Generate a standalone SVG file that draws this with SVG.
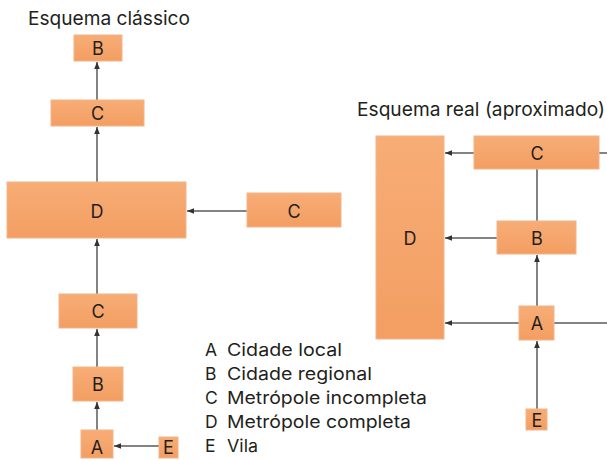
<svg xmlns="http://www.w3.org/2000/svg" width="607" height="460" viewBox="0 0 607 460">
<style>
.box{fill:url(#og);stroke:#f2b58a;stroke-width:1}
.lbl{font-family:Inter,"Liberation Sans",sans-serif;font-size:18px;fill:#231f20;text-anchor:middle;dominant-baseline:central}
.ttl{font-family:Inter,"Liberation Sans",sans-serif;font-size:19px;fill:#231f20}
.leg{font-family:Inter,"Liberation Sans",sans-serif;font-size:17.5px;fill:#231f20}
.ln{stroke:#5a5a5a;stroke-width:1.5;fill:none}
.ar{marker-end:url(#ah)}
</style>
<defs>
<linearGradient id="og" x1="0" y1="0" x2="0" y2="1">
<stop offset="0" stop-color="#f7ad76"/>
<stop offset="1" stop-color="#f39e62"/>
</linearGradient>
<marker id="ah" viewBox="0 0 10 10" refX="10" refY="5" markerWidth="8" markerHeight="7" markerUnits="userSpaceOnUse" orient="auto">
<path d="M0,1 L10,5 L0,9 z" fill="#333"/>
</marker>
</defs>
<rect width="607" height="460" fill="#fff"/>
<text class="ttl" x="28" y="25" textLength="162" lengthAdjust="spacingAndGlyphs">Esquema clássico</text>
<text class="ttl" x="357" y="116" textLength="248" lengthAdjust="spacingAndGlyphs">Esquema real (aproximado)</text>
<g id="connectors">
<line class="ln ar" x1="97" y1="100" x2="97" y2="62"/>
<line class="ln ar" x1="97" y1="182" x2="97" y2="127"/>
<line class="ln ar" x1="247" y1="211" x2="187" y2="211"/>
<line class="ln ar" x1="97" y1="294" x2="97" y2="239"/>
<line class="ln ar" x1="97" y1="367" x2="97" y2="329"/>
<line class="ln ar" x1="97" y1="430" x2="97" y2="402"/>
<line class="ln ar" x1="159" y1="446" x2="114" y2="446"/>
<line class="ln ar" x1="474" y1="153" x2="445" y2="153"/>
<line class="ln" x1="599" y1="153" x2="607" y2="153"/>
<line class="ln" x1="537" y1="169" x2="537" y2="221"/>
<line class="ln ar" x1="497" y1="238" x2="445" y2="238"/>
<line class="ln ar" x1="537" y1="306" x2="537" y2="255"/>
<line class="ln ar" x1="519" y1="323" x2="445" y2="323"/>
<line class="ln" x1="554" y1="323" x2="607" y2="323"/>
<line class="ln ar" x1="537" y1="409" x2="537" y2="341"/>
</g>
<g id="L-B"><rect class="box" x="74" y="35" width="48" height="26"/><text class="lbl" x="98" y="48">B</text></g>
<g id="L-C1"><rect class="box" x="51" y="100" width="93" height="26"/><text class="lbl" x="97.5" y="113">C</text></g>
<g id="L-D"><rect class="box" x="7" y="182" width="179" height="56"/><text class="lbl" x="97" y="211">D</text></g>
<g id="L-C2"><rect class="box" x="247" y="193" width="94" height="34"/><text class="lbl" x="294" y="211">C</text></g>
<g id="L-C3"><rect class="box" x="59" y="294" width="78" height="34"/><text class="lbl" x="98" y="311">C</text></g>
<g id="L-B2"><rect class="box" x="73" y="367" width="50" height="34"/><text class="lbl" x="98" y="384">B</text></g>
<g id="L-A"><rect class="box" x="81" y="430" width="32" height="28"/><text class="lbl" x="97" y="447">A</text></g>
<g id="L-E"><rect class="box" x="159" y="437" width="19" height="21"/><text class="lbl" x="168.5" y="447">E</text></g>
<g id="R-D"><rect class="box" x="376" y="136" width="68" height="203"/><text class="lbl" x="410" y="238">D</text></g>
<g id="R-C"><rect class="box" x="474" y="136" width="125" height="33"/><text class="lbl" x="537" y="153">C</text></g>
<g id="R-B"><rect class="box" x="497" y="221" width="79" height="33"/><text class="lbl" x="537" y="238">B</text></g>
<g id="R-A"><rect class="box" x="519" y="306" width="35" height="34"/><text class="lbl" x="537" y="323">A</text></g>
<g id="R-E"><rect class="box" x="526" y="409" width="21" height="21"/><text class="lbl" x="537" y="420">E</text></g>
<g id="legend">
<text class="leg" x="205" y="356">A</text><text class="leg" x="227" y="356" textLength="115" lengthAdjust="spacingAndGlyphs">Cidade local</text>
<text class="leg" x="205" y="380">B</text><text class="leg" x="227" y="380" textLength="145" lengthAdjust="spacingAndGlyphs">Cidade regional</text>
<text class="leg" x="205" y="404">C</text><text class="leg" x="227" y="404" textLength="200" lengthAdjust="spacingAndGlyphs">Metrópole incompleta</text>
<text class="leg" x="205" y="428">D</text><text class="leg" x="227" y="428" textLength="184" lengthAdjust="spacingAndGlyphs">Metrópole completa</text>
<text class="leg" x="205" y="452">E</text><text class="leg" x="227" y="452" textLength="31" lengthAdjust="spacingAndGlyphs">Vila</text>
</g>
</svg>
